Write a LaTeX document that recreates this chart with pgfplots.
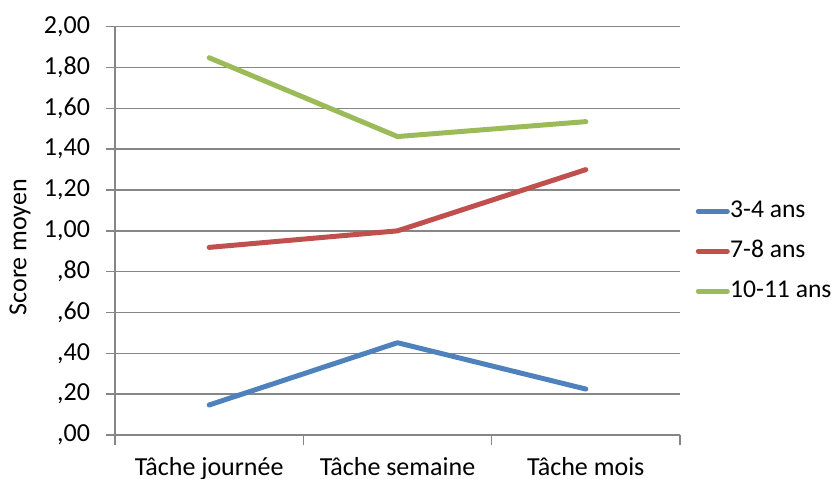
\documentclass[border=0pt]{standalone}
\usepackage{fontspec}
\setmainfont{Carlito}
\usepackage{pgfplots}
\pgfplotsset{compat=1.18}
\definecolor{gridgray}{RGB}{134,134,134}
\definecolor{sblue}{RGB}{79,129,189}
\definecolor{sred}{RGB}{192,80,77}
\definecolor{sgreen}{RGB}{155,187,89}
\begin{document}
\begin{tikzpicture}[font=\fontsize{13bp}{15.6bp}\selectfont]
\begin{axis}[
  at={(0,0)}, anchor=south west,
  scale only axis,
  width=282.5bp, height=204.15bp,
  xmin=-0.5, xmax=2.5,
  ymin=0, ymax=2,
  axis x line*=bottom, axis y line*=left,
  axis line style={draw=gridgray, line width=0.7bp},
  xtick={0,1,2},
  xticklabels={Tâche journée, Tâche semaine, Tâche mois},
  major x tick style={draw=none},
  minor xtick={-0.5,0.5,1.5,2.5},
  minor x tick style={draw=gridgray, line width=0.7bp},
  minor tick length=5bp,
  ytick={0,0.2,0.4,0.6,0.8,1,1.2,1.4,1.6,1.8,2},
  yticklabels={{,00},{,20},{,40},{,60},{,80},{1,00},{1,20},{1,40},{1,60},{1,80},{2,00}},
  major tick length=4.5bp,
  tick align=outside,
  y tick style={draw=gridgray, line width=0.7bp},
  ymajorgrids,
  grid style={draw=gridgray, line width=0.7bp},
  xticklabel style={anchor=base, yshift=-15.5bp, font=\fontsize{13bp}{15.6bp}\selectfont},
  yticklabel style={anchor=east, xshift=-4.5bp, font=\fontsize{13bp}{15.6bp}\selectfont},
  ylabel={Score moyen},
  ylabel style={at={(axis description cs:-0.168,0.46)}, anchor=center, font=\fontsize{13bp}{15.6bp}\selectfont},
  legend cell align=left,
  legend style={draw=none, fill=none, inner sep=0pt, outer sep=0pt,
    at={(1.028,0.45)}, anchor=west, row sep=7.5bp,
    nodes={inner sep=0.2bp, text height=9bp, text depth=3bp},
    font=\fontsize{12.8bp}{15.6bp}\selectfont},
  legend image code/.code={\draw[#1] (0bp,0bp) -- (14.5bp,0bp);},
  every axis plot/.append style={line width=2.5bp, line cap=round, line join=round},
]
\addplot[sblue] coordinates {(0,0.147) (1,0.452) (2,0.225)};
\addlegendentry{3-4 ans}
\addplot[sred] coordinates {(0,0.919) (1,1.00) (2,1.30)};
\addlegendentry{7-8 ans}
\addplot[sgreen] coordinates {(0,1.848) (1,1.462) (2,1.535)};
\addlegendentry{10-11 ans}
\end{axis}
\pgfresetboundingbox
\path[use as bounding box] (-57.5bp,-22bp) rectangle (358bp,217.5bp);
\end{tikzpicture}
\end{document}
